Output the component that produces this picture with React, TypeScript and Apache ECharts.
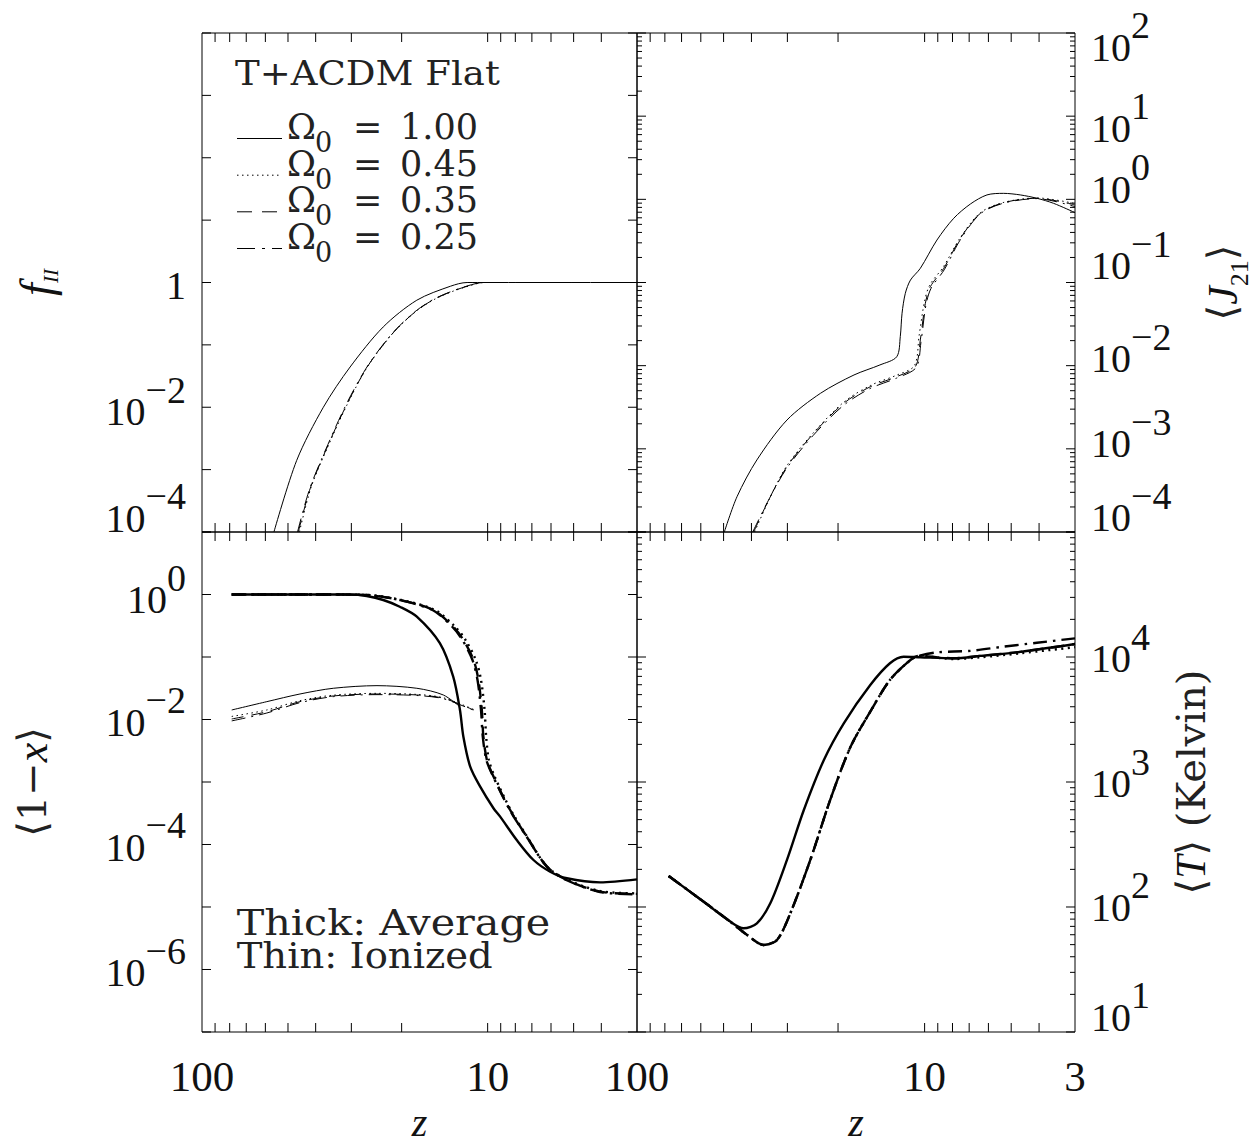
import React, { useEffect, useRef } from "react";
import * as echarts from "echarts";

// ---------------- DATA (x = redshift z) ----------------
// Top-left panel: f_II
const zF100 = [56.0, 46.6, 37.6, 30.3, 23.2, 17.7, 13.5, 11.8, 3];
const fF100 = [1.0e-4, 1.41e-3, 1.0e-2, 4.42e-2, 0.194, 0.52, 0.871, 1, 1];
const zF045 = [45.6, 41.5, 36.3, 30.9, 26.4, 22.5, 20.2, 17.6, 15.4, 13.4, 11.7, 10.3, 3];
const fF045 = [1.0e-4, 5.2e-4, 2.3e-3, 1.15e-2, 4.4e-2, 0.119, 0.206, 0.359, 0.533, 0.708, 0.871, 1, 1];
const zF035 = [46.0, 41.8, 36.6, 31.1, 26.5, 22.6, 20.3, 17.7, 15.5, 13.5, 11.8, 10.35, 3];
const fF035 = [1.0e-4, 5.0e-4, 2.2e-3, 1.12e-2, 4.3e-2, 0.117, 0.203, 0.355, 0.53, 0.705, 0.87, 1, 1];
const zF025 = [46.3, 42.0, 36.8, 31.3, 26.6, 22.7, 20.4, 17.8, 15.6, 13.6, 11.9, 10.4, 3];
const fF025 = [1.0e-4, 4.9e-4, 2.15e-3, 1.1e-2, 4.25e-2, 0.116, 0.2, 0.352, 0.527, 0.7, 0.868, 1, 1];

// Top-right panel: <J21>
const zJ100 = [49.7, 44.9, 38.3, 30.1, 23.0, 17.6, 14.3, 12.5, 12.15, 11.98, 11.67, 11.2, 10.35, 9.06, 7.92, 6.93, 6.07, 5.31, 4.65, 4.07, 3.56, 3];
const jJ100 = [1.0e-4, 2.66e-4, 7.35e-4, 2.22e-3, 4.66e-3, 7.73e-3, 1.02e-2, 1.28e-2, 2.24e-2, 4.27e-2, 7.41e-2, 0.107, 0.148, 0.324, 0.592, 0.879, 1.13, 1.18, 1.13, 1.03, 0.895, 0.692];
const zJ045 = [39.0, 34.2, 30.0, 24.2, 19.0, 15.4, 12.5, 10.85, 10.45, 10.0, 9.6, 8.6, 7.5, 6.4, 5.3, 4.07, 3];
const jJ045 = [1.0e-4, 2.75e-4, 6.4e-4, 1.6e-3, 3.7e-3, 5.8e-3, 7.7e-3, 1.0e-2, 2.3e-2, 6.0e-2, 9.3e-2, 0.155, 0.35, 0.69, 0.92, 1.04, 0.89];
const zJ035 = [39.3, 34.4, 30.1, 24.3, 19.1, 15.45, 12.5, 10.77, 10.35, 9.94, 9.55, 8.58, 7.51, 6.4, 5.31, 4.07, 3];
const jJ035 = [1.0e-4, 2.66e-4, 6.1e-4, 1.54e-3, 3.53e-3, 5.58e-3, 7.38e-3, 9.72e-3, 2.04e-2, 5.62e-2, 8.91e-2, 0.148, 0.34, 0.679, 0.912, 1.03, 0.855];
const zJ025 = [39.6, 34.6, 30.2, 24.4, 19.2, 15.5, 12.5, 10.7, 10.3, 9.9, 9.5, 8.55, 7.5, 6.4, 5.31, 4.07, 3];
const jJ025 = [1.0e-4, 2.55e-4, 5.8e-4, 1.45e-3, 3.3e-3, 5.3e-3, 7.1e-3, 9.5e-3, 1.9e-2, 5.3e-2, 8.5e-2, 0.142, 0.33, 0.67, 0.9, 1.02, 0.817];

// Bottom-left panel: <1-x>, thick = average
const zA100 = [78.7, 40, 30.3, 26.5, 23.2, 20.3, 17.7, 14.7, 13.2, 12.5, 12.16, 11.51, 10.62, 9.54, 9.04, 7.91, 6.91, 6.04, 5.28, 4.04, 3];
const aA100 = [1, 1, 1, 0.946, 0.817, 0.638, 0.442, 0.166, 4.84e-2, 1.42e-2, 5.31e-3, 1.76e-3, 8.41e-4, 3.8e-4, 2.79e-4, 1.18e-4, 5.65e-5, 3.67e-5, 2.88e-5, 2.48e-5, 2.77e-5];
const zA045 = [78.7, 40, 26.3, 20.1, 15.3, 13.0, 11.95, 11.0, 10.55, 10.25, 10.12, 9.9, 9.45, 8.3, 7.27, 6.2, 5.28, 4.04, 3];
const zA035 = [78.7, 40, 26.5, 20.3, 15.5, 13.2, 12.16, 11.2, 10.77, 10.48, 10.35, 10.06, 9.54, 8.34, 7.29, 6.2, 5.28, 4.04, 3];
const zA025 = [78.7, 40, 26.6, 20.4, 15.6, 13.3, 12.25, 11.3, 10.85, 10.55, 10.4, 10.1, 9.56, 8.36, 7.3, 6.2, 5.28, 4.04, 3];
const aA045 = [1, 1, 0.982, 0.817, 0.565, 0.305, 0.187, 8.95e-2, 4.29e-2, 1.42e-2, 5.31e-3, 2.25e-3, 1.22e-3, 3.56e-4, 1.33e-4, 4.42e-5, 2.75e-5, 1.8e-5, 1.65e-5];
const aA035 = [1, 1, 0.982, 0.817, 0.565, 0.305, 0.187, 8.95e-2, 4.29e-2, 1.42e-2, 5.31e-3, 2.25e-3, 1.22e-3, 3.56e-4, 1.33e-4, 4.42e-5, 2.7e-5, 1.76e-5, 1.62e-5];
const aA025 = [1, 1, 0.982, 0.817, 0.565, 0.305, 0.187, 8.95e-2, 4.29e-2, 1.42e-2, 5.31e-3, 2.25e-3, 1.22e-3, 3.56e-4, 1.33e-4, 4.42e-5, 2.68e-5, 1.74e-5, 1.6e-5];

// Bottom-left panel: <1-x>, thin = ionized
const zI100 = [78.7, 59.3, 45.4, 34.7, 24.4, 17.7, 14.3, 12.5];
const iI100 = [1.42e-2, 1.93e-2, 2.56e-2, 3.16e-2, 3.48e-2, 3.16e-2, 2.47e-2, 1.6e-2];
const zI035 = [78.7, 59.3, 45.4, 34.7, 24.4, 17.7, 14.3, 11.2];
const iI045 = [1.12e-2, 1.42e-2, 2.0e-2, 2.45e-2, 2.62e-2, 2.52e-2, 2.23e-2, 1.45e-2];
const iI035 = [1.02e-2, 1.33e-2, 1.93e-2, 2.38e-2, 2.56e-2, 2.47e-2, 2.19e-2, 1.42e-2];
const iI025 = [0.95e-2, 1.27e-2, 1.86e-2, 2.32e-2, 2.5e-2, 2.42e-2, 2.15e-2, 1.4e-2];

// Bottom-right panel: <T> (Kelvin)
const zT100 = [77.6, 58.6, 47.4, 42.6, 38.3, 34.4, 30.1, 26.3, 22.4, 19.1, 15.45, 13.2, 11.83, 10.35, 7.92, 6.4, 4.65, 3];
const tT100 = [177, 110, 76.4, 67.6, 74.1, 107, 238, 597, 1500, 2950, 5970, 8910, 10050, 9950, 9770, 10200, 11000, 12700];
const zT035 = [77.6, 58.6, 47.4, 41.4, 36.3, 32.6, 29.3, 24.97, 21.3, 18.1, 15.45, 13.2, 11.2, 10.5, 7.92, 6.4, 4.65, 3];
const tT035 = [177, 110, 76.4, 59.7, 49.7, 54.5, 89.1, 238, 718, 1910, 3650, 6550, 9460, 10200, 9770, 10200, 11000, 12700];
const tT045 = [177, 110, 76.4, 59.7, 49.7, 54.5, 89.1, 238, 718, 1910, 3650, 6550, 9460, 10200, 9640, 9950, 10700, 12000];
const zT025 = [77.6, 58.6, 47.4, 41.4, 36.3, 32.6, 29.3, 24.97, 21.3, 18.1, 15.45, 13.2, 11.2, 10.5, 9.06, 6.93, 5.31, 4.07, 3];
const tT025 = [177, 110, 76.4, 59.7, 49.7, 54.5, 89.1, 238, 718, 1910, 3650, 6550, 9460, 10200, 10900, 11200, 12100, 13000, 14100];

// Legend / annotation texts
const TITLE = "T+ACDM Flat";
const OMEGA_LABELS = ["1.00", "0.45", "0.35", "0.25"];
const NOTE_1 = "Thick: Average";
const NOTE_2 = "Thin: Ionized";

// Axis tick positions (x ticks in z)
const X_TICKS = [4, 5, 6, 7, 8, 9, 10, 20, 30, 40, 50, 60, 70, 80, 90];

// ---------------- STYLE ----------------
const FN = '"Liberation Serif", "Times New Roman", serif';
const FT = '"DejaVu Serif", "Liberation Serif", serif';
const FM = '"DejaVu Serif", "DejaVu Sans", serif';
const INK = "#111";
const INK_T = "#222";

const DASH: Record<string, any> = {
  solid: "solid",
  dot: [1.5, 3.5],
  dash: [12, 8],
  dashdot: [14, 6, 2, 6],
};
const DASH_THICK: Record<string, any> = {
  solid: "solid",
  dot: [2, 4.5],
  dash: [13, 8],
  dashdot: [14, 6, 2.5, 6],
};

const GRIDS = [
  { left: 202, top: 33, width: 435, height: 499 },
  { left: 637, top: 33, width: 438, height: 499 },
  { left: 202, top: 532, width: 435, height: 500 },
  { left: 637, top: 532, width: 438, height: 500 },
];

// vertical placement of each y tick label ("10" centre relative to tick, px) per panel
const LABEL_OFF: Record<number, Record<number, number>> = {
  0: { 0: 2.7, [-2]: 4.3, [-4]: -13.5 },
  1: { 2: 14, 1: 12, 0: -10, [-1]: -17, [-2]: -7, [-3]: -5, [-4]: -14 },
  2: { 0: 5, [-2]: 2.5, [-4]: 3, [-6]: 3.4 },
  3: { 4: 1.5, 3: 1.5, 2: 0.7, 1: -14.5 },
};

const decades = (a: number, b: number) => {
  const r: number[] = [];
  for (let e = a; e <= b; e++) r.push(Math.pow(10, e));
  return r;
};
const minors = (a: number, b: number) => {
  const r: number[] = [];
  for (let e = a; e < b; e++) for (let m = 2; m <= 9; m++) r.push(m * Math.pow(10, e));
  return r;
};

const RICH_Y: any = {
  b: { fontFamily: FN, fontSize: 40, color: INK, verticalAlign: "bottom", lineHeight: 61 },
  s: { fontFamily: FN, fontSize: 38, color: INK, verticalAlign: "top" },
};
for (let g = 1; g <= 80; g++) RICH_Y["g" + g] = { fontSize: 1, lineHeight: g, color: "transparent" };

const supLabel = (v: number, gi: number, one: boolean) => {
  const lg = Math.log10(v);
  const e = Math.round(lg);
  if (Math.abs(lg - e) > 1e-3) return "";
  const off = LABEL_OFF[gi][e];
  if (off === undefined) return "";
  const content = one && e === 0 ? "{b|1}" : `{b|10}{s|${e < 0 ? "\u2212" : ""}${Math.abs(e)}}`;
  const d = off - 10.5;
  const G = Math.round(Math.abs(d) * 2);
  if (G < 1) return content;
  return d > 0 ? `{g${G}| }\n${content}` : `${content}\n{g${G}| }`;
};

const yAxisDef = (
  gi: number, min: number, max: number, position: string, one: boolean,
  name: string, nameGap: number, nameRich: any
) => ({
  type: "log", logBase: 10, gridIndex: gi,
  // a hair beyond the decade so the end decades are ordinary labelled ticks
  min: min * 0.9999, max: max * 1.0001, position,
  axisLine: { show: false }, axisTick: { show: false }, splitLine: { show: false },
  minorTick: { show: false },
  axisLabel: {
    show: true, margin: 16, rich: RICH_Y,
    showMinLabel: false, showMaxLabel: false, hideOverlap: false,
    formatter: (v: number) => supLabel(v, gi, one),
  },
  name, nameLocation: "middle", nameRotate: 90, nameGap,
  nameTextStyle: { rich: nameRich },
});

const xAxisDef = (gi: number, labels: boolean, hideMin: boolean) => ({
  type: "log", logBase: 10, gridIndex: gi, min: 3, max: 100, inverse: true,
  axisLine: { show: false }, axisTick: { show: false }, splitLine: { show: false },
  minorTick: { show: false },
  axisLabel: {
    show: labels, margin: 23, fontFamily: FN, fontSize: 43, color: INK,
    showMinLabel: true, showMaxLabel: true,
    formatter: (v: number) => (hideMin && v < 3.5 ? "" : String(Math.round(v))),
  },
  name: labels ? "{i|z}" : "", nameLocation: "middle", nameGap: 75,
  nameTextStyle: { rich: { i: { fontFamily: FN, fontStyle: "italic", fontSize: 40, lineHeight: 30, color: INK } } },
});

const line = (gi: number, zs: number[], vs: number[], type: any, width: number) => ({
  type: "line", xAxisIndex: gi, yAxisIndex: gi,
  data: zs.map((z, i) => [z, vs[i]]),
  showSymbol: false, symbol: "none", smooth: 0.3, silent: true, clip: true,
  lineStyle: { color: "#000", width, type },
  z: 3,
});

const renderTicks = (params: any, api: any) => {
  const cs = params.coordSys;
  const kind = api.value(2);
  const len = api.value(3);
  const p = api.coord([api.value(0), api.value(1)]);
  const st = { stroke: "#000", lineWidth: 1 };
  if (kind === 0) {
    const x = p[0];
    return {
      type: "group",
      children: [
        { type: "line", shape: { x1: x, y1: cs.y, x2: x, y2: cs.y + len }, style: st },
        { type: "line", shape: { x1: x, y1: cs.y + cs.height, x2: x, y2: cs.y + cs.height - len }, style: st },
      ],
    };
  }
  const y = p[1];
  return {
    type: "group",
    children: [
      { type: "line", shape: { x1: cs.x, y1: y, x2: cs.x + len, y2: y }, style: st },
      { type: "line", shape: { x1: cs.x + cs.width, y1: y, x2: cs.x + cs.width - len, y2: y }, style: st },
    ],
  };
};

const tickSeries = (gi: number, yRef: number, major: number[], minor: number[]) => ({
  type: "custom", xAxisIndex: gi, yAxisIndex: gi, silent: true, clip: false, z: 5,
  renderItem: renderTicks,
  data: [
    ...X_TICKS.map((z) => [z, yRef, 0, 9]),
    ...major.map((v) => [10, v, 1, 9]),
    ...minor.map((v) => [10, v, 1, 5]),
  ],
});

const txt = (text: string, x: number, y: number, size: number, family: string, scaleX = 1) => ({
  type: "text", x, y, scaleX, silent: true, z: 10,
  style: {
    text, font: `${size}px ${family}`, fill: INK_T,
    textAlign: "left", textVerticalAlign: "middle", align: "left", verticalAlign: "middle",
  },
});

function buildOption() {
  const graphic: any[] = [];
  graphic.push(txt(TITLE, 235, 73.4, 34, FT, 1.09));
  const baselines = [140, 176.7, 213.3, 250];
  const dashes = [null, DASH.dot, [15, 10], [18, 7, 3, 7]];
  OMEGA_LABELS.forEach((lab, k) => {
    const b = baselines[k];
    graphic.push({
      type: "line", silent: true, z: 10,
      shape: { x1: 237, y1: b - 1.5, x2: 282, y2: b - 1.5 },
      style: { stroke: "#000", lineWidth: 1, lineDash: dashes[k] },
    });
    graphic.push(txt("\u03A9", 287, b - 13, 35, FT));
    graphic.push(txt("0", 315, b + 2.5, 27, FT));
    graphic.push(txt("=", 353, b - 13, 35, FT));
    graphic.push(txt(lab, 400, b - 13, 35, FT));
  });
  graphic.push(txt(NOTE_1, 236.7, 922.5, 35, FT, 1.18));
  graphic.push(txt(NOTE_2, 236.7, 955.8, 35, FT, 1.1));

  const nameTL = {
    f: { fontFamily: FN, fontStyle: "italic", fontSize: 46, color: INK, verticalAlign: "top", lineHeight: 48 },
    s: { fontFamily: FN, fontStyle: "italic", fontSize: 21, color: INK, verticalAlign: "bottom" },
  };
  const nameTR = {
    n: { fontFamily: FM, fontSize: 40, color: INK_T, verticalAlign: "top", lineHeight: 50 },
    i: { fontFamily: FN, fontStyle: "italic", fontSize: 42, color: INK, verticalAlign: "top" },
    s: { fontFamily: FN, fontSize: 26, color: INK, verticalAlign: "bottom" },
  };
  const nameBL = {
    n: { fontFamily: FM, fontSize: 40, color: INK_T },
    i: { fontFamily: FN, fontStyle: "italic", fontSize: 44, color: INK },
  };
  const nameBR = {
    n: { fontFamily: FM, fontSize: 40, color: INK_T },
    i: { fontFamily: FN, fontStyle: "italic", fontSize: 42, color: INK },
  };

  return {
    animation: false,
    backgroundColor: "#fff",
    grid: GRIDS.map((g) => ({
      ...g, show: true, borderColor: "#000", borderWidth: 1,
      backgroundColor: "transparent", containLabel: false, outerBoundsMode: "none",
    })),
    xAxis: [xAxisDef(0, false, false), xAxisDef(1, false, false), xAxisDef(2, true, true), xAxisDef(3, true, false)],
    yAxis: [
      yAxisDef(0, 1e-4, 1e4, "left", true, "{f|f}{s|II}", 141, nameTL),
      yAxisDef(1, 1e-4, 1e2, "right", false, "{n|\u27E8}{i|J}{s|21}{n|\u27E9}", 127, nameTR),
      yAxisDef(2, 1e-7, 1e1, "left", false, "{n|\u27E8}{n|1\u2212}{i|x}{n|\u27E9}", 148, nameBL),
      yAxisDef(3, 1e1, 1e5, "right", false, "{n|\u27E8}{i|T}{n|\u27E9 (Kelvin)}", 95, nameBR),
    ],
    graphic,
    series: [
      tickSeries(0, 1, decades(-4, 4), []),
      tickSeries(1, 0.01, decades(-4, 2), minors(-4, 2)),
      tickSeries(2, 1e-3, decades(-7, 1), []),
      tickSeries(3, 1000, decades(1, 5), minors(1, 5)),

      line(0, zF100, fF100, DASH.solid, 1),
      line(0, zF045, fF045, DASH.dot, 1),
      line(0, zF035, fF035, DASH.dash, 1),
      line(0, zF025, fF025, DASH.dashdot, 1),

      line(1, zJ100, jJ100, DASH.solid, 1),
      line(1, zJ045, jJ045, DASH.dot, 1),
      line(1, zJ035, jJ035, DASH.dash, 1),
      line(1, zJ025, jJ025, DASH.dashdot, 1),

      line(2, zA100, aA100, DASH_THICK.solid, 2.4),
      line(2, zA045, aA045, DASH_THICK.dot, 2.4),
      line(2, zA035, aA035, DASH_THICK.dash, 2.4),
      line(2, zA025, aA025, DASH_THICK.dashdot, 2.4),
      line(2, zI100, iI100, DASH.solid, 1),
      line(2, zI035, iI045, DASH.dot, 1),
      line(2, zI035, iI035, DASH.dash, 1),
      line(2, zI035, iI025, DASH.dashdot, 1),

      line(3, zT100, tT100, DASH_THICK.solid, 2.4),
      line(3, zT035, tT045, DASH_THICK.dot, 2.4),
      line(3, zT035, tT035, DASH_THICK.dash, 2.4),
      line(3, zT025, tT025, DASH_THICK.dashdot, 2.4),
    ],
  };
}

export default function App() {
  const ref = useRef<HTMLDivElement>(null);
  useEffect(() => {
    document.body.style.margin = "0";
    const chart = echarts.init(ref.current as HTMLDivElement, undefined, { renderer: "svg" });
    chart.setOption(buildOption() as any);
    return () => chart.dispose();
  }, []);
  return <div ref={ref} style={{ width: 1253, height: 1144, background: "#fff" }} />;
}
